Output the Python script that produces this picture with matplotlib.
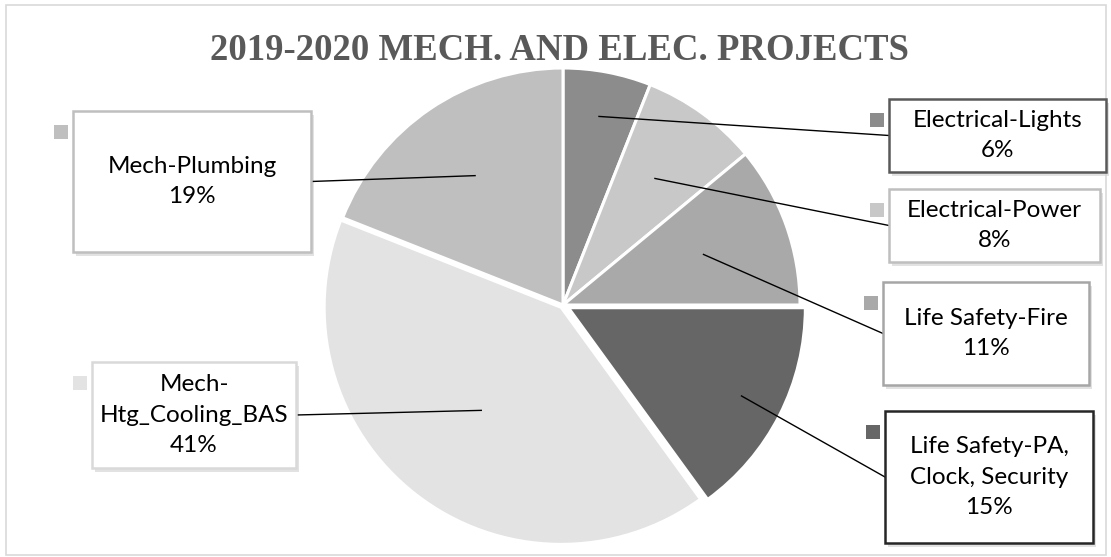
import numpy as np
import matplotlib
matplotlib.use('Agg')
import matplotlib.pyplot as plt
from matplotlib.patches import Rectangle

W, H = 1111, 557

# data
labels = ['Electrical-Lights', 'Electrical-Power', 'Life Safety-Fire',
          'Life Safety-PA,\nClock, Security', 'Mech-\nHtg_Cooling_BAS', 'Mech-Plumbing']
values = [6, 8, 11, 15, 41, 19]
colors = ['#8c8c8c', '#c8c8c8', '#a9a9a9', '#666666', '#e3e3e3', '#bfbfbf']
edge_cols = ['#595959', '#bfbfbf', '#a6a6a6', '#262626', '#d9d9d9', '#bfbfbf']
explode = [0, 0, 0, 6, 3, 0]

# layout (pixel coords, y from top): box x0, y0, x1, y1
boxes = [(889, 99, 1106, 172), (889, 189, 1100, 262), (883, 282, 1089, 385),
         (885, 411, 1093, 543), (92, 362, 296, 468), (73, 111, 311, 252)]
anchor_r = [0.81, 0.66, 0.63, 0.82, 0.55, 0.66]
box_side = ['left', 'left', 'left', 'left', 'right', 'right']

def py(y):
    return H - y

fig = plt.figure(figsize=(W / 100, H / 100), dpi=100)
ax = fig.add_axes([0, 0, 1, 1])

cx, cy, R = 563, py(305), 237
wedges, _ = ax.pie(values, colors=colors, startangle=90, counterclock=False,
                   center=(cx, cy), radius=R, explode=explode,
                   wedgeprops=dict(edgecolor='white', linewidth=2.2))
ax.set_xlim(0, W)
ax.set_ylim(0, H)
ax.set_aspect('auto')
ax.axis('off')

# frame
ax.add_patch(Rectangle((6, py(555)), 1100, 550, fill=False, edgecolor='#d9d9d9', lw=1.2))

ax.text(560, py(60), '2019-2020 MECH. AND ELEC. PROJECTS', ha='center', va='baseline',
        family='Liberation Serif', weight='bold', fontsize=26.5, color='#595959')

for i, w in enumerate(wedges):
    x0, y0, x1, y1 = boxes[i]
    # shadow
    ax.add_patch(Rectangle((x0 + 3, py(y1 + 4)), x1 - x0, y1 - y0, facecolor='#d0d0d0',
                           edgecolor='none', alpha=0.6, zorder=3))
    ax.add_patch(Rectangle((x0, py(y1)), x1 - x0, y1 - y0, facecolor='white',
                           edgecolor=edge_cols[i], lw=1.8, zorder=4))
    ax.text((x0 + x1) / 2, py((y0 + y1) / 2), labels[i] + '\n' + str(values[i]) + '%',
            ha='center', va='center', family='Lato', fontsize=17.5, color='#000000',
            linespacing=1.55, zorder=5)
    # key square
    ax.add_patch(Rectangle((x0 - 19, py(y0 + 28)), 14, 14, facecolor=colors[i],
                           edgecolor='none', zorder=4))
    # leader line
    mid = np.deg2rad((w.theta1 + w.theta2) / 2)
    wx, wy = w.center
    axp = wx + anchor_r[i] * R * np.cos(mid)
    ayp = wy + anchor_r[i] * R * np.sin(mid)
    ex = x0 if box_side[i] == 'left' else x1
    ey = py((y0 + y1) / 2)
    ax.plot([axp, ex], [ayp, ey], color='black', lw=1.0, zorder=3)

fig.savefig('out.png', dpi=100)
